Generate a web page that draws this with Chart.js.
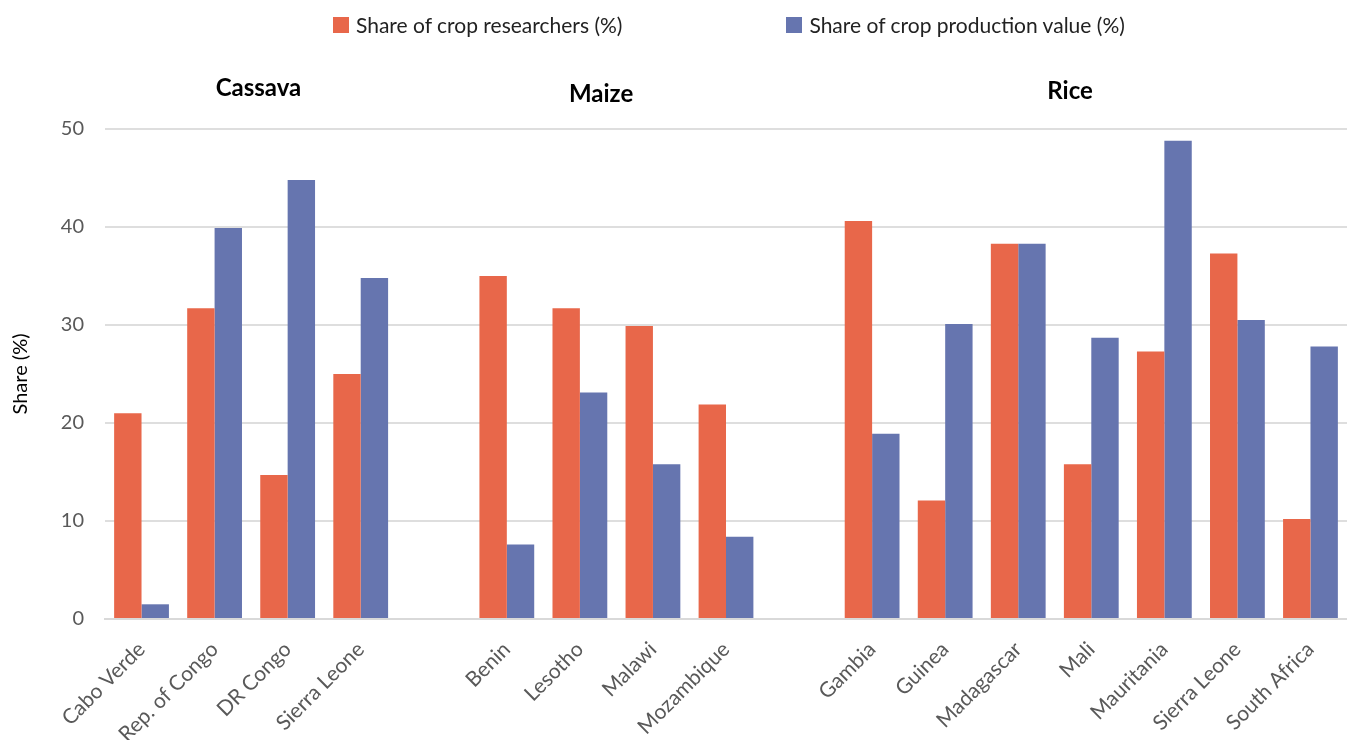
<!DOCTYPE html>
<html>
<head>
<meta charset="utf-8">
<title>Share of crop researchers vs crop production value</title>
<script src="https://cdn.jsdelivr.net/npm/chart.js@4.4.1/dist/chart.umd.min.js"></script>
<style>
    html, body {
        margin: 0;
        padding: 0;
        background: #ffffff;
    }
    #wrap {
        position: relative;
        width: 1347px;
        height: 740px;
        overflow: hidden;
    }
    #legend {
        position: absolute;
        top: 12px;
        left: 333px;
        display: flex;
        font-family: Lato, sans-serif;
        font-size: 21px;
        color: #222;
    }
    .legend-item {
        display: flex;
        align-items: center;
        margin-right: 164px;
    }
    .legend-box {
        width: 16px;
        height: 16px;
        margin-right: 7px;
    }
</style>
</head>
<body>
<div id="wrap">
    <canvas id="crop-chart" width="1347" height="740"></canvas>
    <div id="legend"></div>
</div>
<script>
// Countries, with an empty slot between crop groups
const categories = [
    'Cabo Verde', 'Rep. of Congo', 'DR Congo', 'Sierra Leone', '',
    'Benin', 'Lesotho', 'Malawi', 'Mozambique', '',
    'Gambia', 'Guinea', 'Madagascar', 'Mali', 'Mauritania', 'Sierra Leone', 'South Africa'
];

// Share of crop researchers (%)
const researchersShare = [
    21.0, 31.7, 14.7, 25.0, null,
    35.0, 31.7, 29.9, 21.9, null,
    40.6, 12.1, 38.3, 15.8, 27.3, 37.3, 10.2
];

// Share of crop production value (%)
const productionShare = [
    1.5, 39.9, 44.8, 34.8, null,
    7.6, 23.1, 15.8, 8.4, null,
    18.9, 30.1, 38.3, 28.7, 48.8, 30.5, 27.8
];

const cropGroups = ['Cassava', 'Maize', 'Rice'];
const yTicks = [0, 10, 20, 30, 40, 50];

// Crop name above each group of countries
const groupTitlesPlugin = {
    id: 'groupTitles',
    afterDraw(chart, args, opts) {
        const ctx = chart.ctx;
        const xScale = chart.scales.x;
        const top = chart.chartArea.top;
        ctx.save();
        ctx.font = 'bold 24px Lato, sans-serif';
        ctx.fillStyle = '#000000';
        ctx.textAlign = 'center';
        ctx.textBaseline = 'middle';
        cropGroups.forEach(function(name, i) {
            const x = xScale.getPixelForValue(opts.at[i]);
            ctx.fillText(name, x, top - opts.lift[i]);
        });
        ctx.restore();
    }
};

function initializeCropChart() {
    const canvas = document.getElementById('crop-chart');

    if (!canvas) return;

    const chart = new Chart(canvas, {
        type: 'bar',
        data: {
            labels: categories,
            datasets: [{
                label: 'Share of crop researchers (%)',
                data: researchersShare,
                backgroundColor: '#E8674A',
                borderWidth: 0
            }, {
                label: 'Share of crop production value (%)',
                data: productionShare,
                backgroundColor: '#6675AF',
                borderWidth: 0
            }]
        },
        options: {
            responsive: false,
            animation: false,
            layout: {
                padding: { top: 129, left: 5, right: 0, bottom: 0 }
            },
            datasets: {
                bar: {
                    categoryPercentage: 0.75,
                    barPercentage: 1.0
                }
            },
            plugins: {
                legend: { display: false },
                tooltip: { enabled: false },
                groupTitles: {
                    at: [1.6, 6.29, 12.71],
                    lift: [41, 35, 38]
                }
            },
            scales: {
                x: {
                    grid: { display: false },
                    border: { color: '#d9d9d9', width: 2 },
                    ticks: {
                        autoSkip: false,
                        minRotation: 45,
                        maxRotation: 45,
                        padding: 10,
                        color: '#595959',
                        font: { family: 'Lato, sans-serif', size: 21 }
                    },
                    afterFit(scale) {
                        scale.height = 121;
                    }
                },
                y: {
                    min: 0,
                    max: 50,
                    afterBuildTicks(scale) {
                        scale.ticks = yTicks.map(function(v) { return { value: v }; });
                    },
                    grid: {
                        color: '#dedede',
                        lineWidth: 2,
                        drawTicks: false
                    },
                    border: { display: false },
                    ticks: {
                        padding: 21,
                        color: '#595959',
                        font: { family: 'Lato, sans-serif', size: 20 }
                    },
                    title: {
                        display: true,
                        text: 'Share (%)',
                        color: '#000000',
                        font: { family: 'Lato, sans-serif', size: 20 }
                    },
                    afterFit(scale) {
                        scale.width = 100;
                    }
                }
            }
        },
        plugins: [groupTitlesPlugin]
    });

    // Legend drawn as html, from the chart's datasets
    const legend = document.getElementById('legend');
    chart.data.datasets.forEach(function(ds) {
        const item = document.createElement('div');
        item.className = 'legend-item';
        const box = document.createElement('span');
        box.className = 'legend-box';
        box.style.background = ds.backgroundColor;
        const text = document.createElement('span');
        text.textContent = ds.label;
        item.appendChild(box);
        item.appendChild(text);
        legend.appendChild(item);
    });
}

document.addEventListener('DOMContentLoaded', function() {
    initializeCropChart();
});
</script>
</body>
</html>
